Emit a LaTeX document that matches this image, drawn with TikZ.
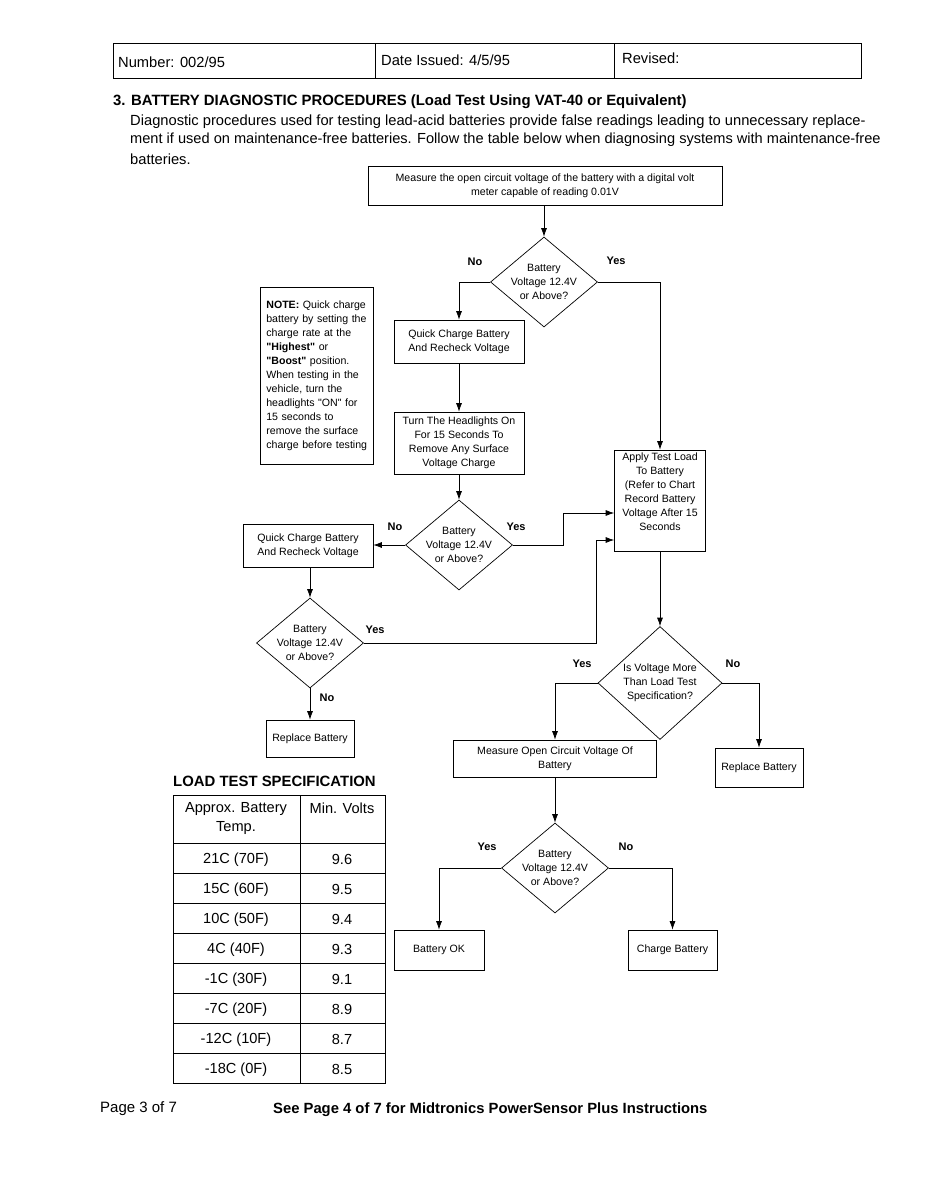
\documentclass[tikz,border=0pt]{standalone}
\usepackage{fontspec}
\setmainfont{Liberation Sans}
\usetikzlibrary{arrows.meta, shapes.geometric, calc}
\newcommand{\sq}{\textquotedbl}
\tikzset{
  fbox/.style={draw, line width=0.7pt, align=center, inner sep=2pt, font=\fontsize{10.6}{14}\selectfont},
  fdia/.style={draw, line width=0.7pt, diamond, inner sep=0pt, minimum width=107pt, minimum height=90pt},
  dtext/.style={align=center, inner sep=0pt, font=\fontsize{10.6}{14}\selectfont},
  flow/.style={-{Latex[length=8.5pt,width=6pt]}, line width=0.7pt},
  yesno/.style={font=\fontsize{11}{12}\selectfont\bfseries},
  txt/.style={inner sep=0pt, anchor=west},
  tcell/.style={inner sep=0pt, align=center, font=\fontsize{14.6}{19}\selectfont}
}

\begin{document}
\begin{tikzpicture}[x=1pt, y=-1pt]
\useasboundingbox (0,0) rectangle (926,1194);
% header strip
\draw[line width=0.8pt] (113,43) rectangle (861,78);
\draw[line width=0.8pt] (375,43) -- (375,78);
\draw[line width=0.8pt] (614,43) -- (614,78);
\node[txt, font=\fontsize{14.7}{16}\selectfont] (num) at (118,62) {Number: 002/95};
\node[txt, font=\fontsize{14.7}{16}\selectfont] (date) at (381,60) {Date Issued: 4/5/95};
\node[txt, font=\fontsize{14.7}{16}\selectfont] (rev) at (622,58) {Revised:};
% title and intro text
\node[txt, font=\fontsize{14.9}{16}\selectfont\bfseries] (title) at (113,102) {3. BATTERY DIAGNOSTIC PROCEDURES (Load Test Using VAT-40 or Equivalent)};
\node[txt, font=\fontsize{14.7}{16}\selectfont] (par1) at (130,122) {Diagnostic procedures used for testing lead-acid batteries provide false readings leading to unnecessary replace-};
\node[txt, font=\fontsize{14.6}{16}\selectfont] (par2) at (130,140) {ment if used on maintenance-free batteries. Follow the table below when diagnosing systems with maintenance-free};
\node[txt, font=\fontsize{14.7}{16}\selectfont] (par3) at (130,159) {batteries.};
% first check
\node[fbox, minimum width=354, minimum height=39] (meas) at (545,185.5) {Measure the open circuit voltage of the battery with a digital volt\\meter capable of reading 0.01V};
\node[fdia, label={[dtext]center:{Battery\\Voltage 12.4V\\or Above?}}] (d1) at (544,282) {};
\draw[flow] (meas.south -| d1.north) -- (d1.north);
\node[yesno] at (475,262) {No};
\node[yesno] at (616,261) {Yes};
% note
\node[fbox, align=left, text width=101, minimum height=177, anchor=north west, inner xsep=6pt, inner ysep=4pt] (note) at (260,287) {\textbf{NOTE:} Quick charge\\battery by setting the\\charge rate at the\\\textbf{\sq Highest\sq} or\\\textbf{\sq Boost\sq} position.\\When testing in the\\vehicle, turn the\\headlights \sq ON\sq{} for\\15 seconds to\\remove the surface\\charge before testing};
% quick charge branch
\node[fbox, minimum width=130, minimum height=43] (qc1) at (459,341.5) {Quick Charge Battery\\And Recheck Voltage};
\draw[flow] (d1.west) -| (qc1.north);
\node[fbox, minimum width=130, minimum height=62] (lights) at (459,443) {Turn The Headlights On\\For 15 Seconds To\\Remove Any Surface\\Voltage Charge};
\draw[flow] (qc1) -- (lights);
\node[fbox, minimum width=91, minimum height=101, inner xsep=0pt] (load) at (660,500.5) {Apply Test Load\\To Battery\\(Refer to Chart\\Record Battery\\Voltage After 15\\Seconds\\[4pt]};
\draw[flow] (d1.east) -| (load.north);
\node[fdia, label={[dtext]center:{Battery\\Voltage 12.4V\\or Above?}}] (d2) at (459,545) {};
\draw[flow] (lights) -- (d2);
\node[yesno] at (395,527) {No};
\node[yesno] at (516,527) {Yes};
\node[fbox, minimum width=130, minimum height=43] (qc2) at (308,546) {Quick Charge Battery\\And Recheck Voltage};
\draw[flow] (d2.west) -- (d2.west -| qc2.east);
\draw[flow] (d2.east) -- ++(50,0) |- ($(load.west)+(0,12.5)$);
\node[fdia, label={[dtext]center:{Battery\\Voltage 12.4V\\or Above?}}] (d3) at (310,643) {};
\draw[flow] (qc2.south -| d3.north) -- (d3.north);
\draw[flow] (d3.east) -- ++(232,0) |- ($(load.west)+(0,39.5)$);
\node[yesno] at (375,630) {Yes};
\node[yesno] at (327,698) {No};
\node[fbox, minimum width=88, minimum height=37] (rep1) at (310,738.5) {Replace Battery};
\draw[flow] (d3.south) -- (rep1.north);
% load test result
\node[fdia, minimum width=124, minimum height=113, label={[dtext]center:{Is Voltage More\\Than Load Test\\Specification?}}] (d4) at (660,683) {};
\draw[flow] (load.south) -- (d4.north);
\node[yesno] at (582,664) {Yes};
\node[yesno] at (733,664) {No};
\node[fbox, minimum width=203, minimum height=37] (meas2) at (555,758.5) {Measure Open Circuit Voltage Of\\Battery};
\draw[flow] (d4.west) -| (meas2.north);
\node[fbox, minimum width=88, minimum height=39] (rep2) at (759,767.5) {Replace Battery};
\draw[flow] (d4.east) -| (rep2.north);
% final check
\node[fdia, label={[dtext]center:{Battery\\Voltage 12.4V\\or Above?}}] (d5) at (555,868) {};
\draw[flow] (meas2.south) -- (d5.north);
\node[yesno] at (487,847) {Yes};
\node[yesno] at (626,847) {No};
\node[fbox, minimum width=90, minimum height=40] (ok) at (439,950) {Battery OK};
\node[fbox, minimum width=89, minimum height=40] (chg) at (672.5,950) {Charge Battery};
\draw[flow] (d5.west) -| (ok.north);
\draw[flow] (d5.east) -| (chg.north);
% load test specification table
\node[txt, font=\fontsize{14.9}{16}\selectfont\bfseries] (spec) at (173,781) {LOAD TEST SPECIFICATION};
\draw[line width=0.7pt] (173,795) rectangle (385,1083);
\draw[line width=0.7pt] (300,795) -- (300,1083);
\foreach \r in {0,...,7}
  \draw[line width=0.7pt] (173,{843+30*\r}) -- (385,{843+30*\r});
\node[tcell] (hTemp) at (236,818) {Approx. Battery\\Temp.};
\node[tcell] (hVolt) at (342,808) {Min. Volts};
\foreach \t/\v [count=\i from 0] in {{21C (70F)}/9.6, {15C (60F)}/9.5, {10C (50F)}/9.4, {4C (40F)}/9.3, {-1C (30F)}/9.1, {-7C (20F)}/8.9, {-12C (10F)}/8.7, {-18C (0F)}/8.5} {
  \node[tcell] at (236,{859.5+30*\i}) {\t};
  \node[tcell] at (342,{859.5+30*\i}) {\v};
}
% footer
\node[txt, font=\fontsize{15}{16}\selectfont] (page) at (100,1109) {Page 3 of 7};
\node[txt, font=\fontsize{14.8}{16}\selectfont\bfseries] (see) at (273,1110) {See Page 4 of 7 for Midtronics PowerSensor Plus Instructions};
\end{tikzpicture}
\end{document}
